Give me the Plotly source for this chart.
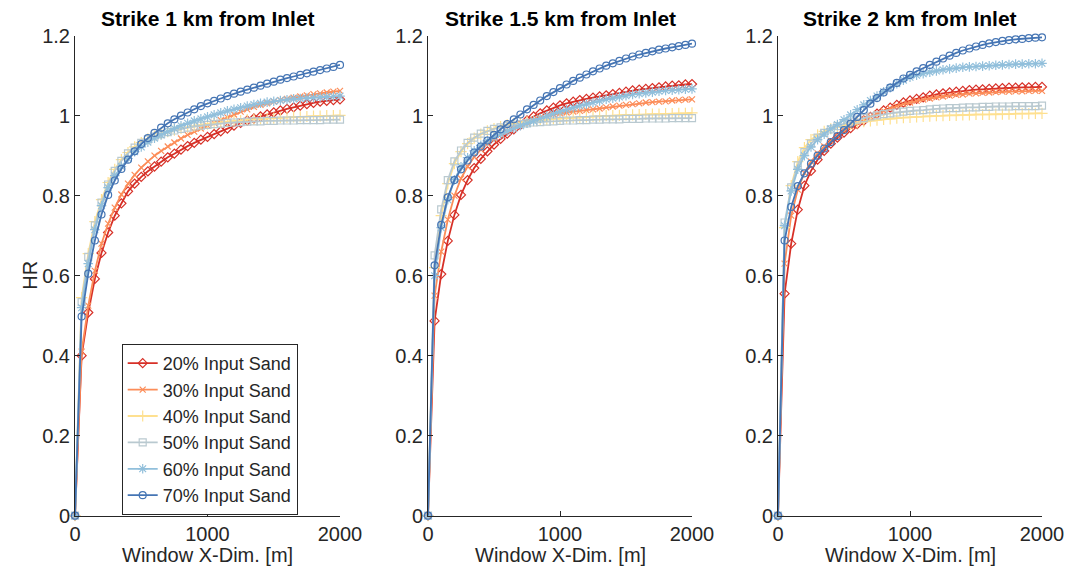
import plotly.graph_objects as go

# Window X-dimension [m]
x_m = [0, 50, 100, 150, 200, 250, 300, 350, 400, 450, 500, 550, 600, 650, 700, 750, 800,
       850, 900, 950, 1000, 1050, 1100, 1150, 1200, 1250, 1300, 1350, 1400, 1450, 1500,
       1550, 1600, 1650, 1700, 1750, 1800, 1850, 1900, 1950, 2000]

series_names = ["20% Input Sand", "30% Input Sand", "40% Input Sand",
                "50% Input Sand", "60% Input Sand", "70% Input Sand"]
panel_titles = ["Strike 1 km from Inlet", "Strike 1.5 km from Inlet", "Strike 2 km from Inlet"]

# ---- Strike 1 km ----
s20_1 = [0, 0.40, 0.508, 0.592, 0.657, 0.708, 0.750, 0.781, 0.811, 0.830, 0.847, 0.861, 0.873, 0.885, 0.896, 0.905, 0.915, 0.924, 0.932, 0.940, 0.947, 0.954, 0.961, 0.968, 0.975, 0.982, 0.988, 0.993, 0.998, 1.003, 1.008, 1.013, 1.017, 1.021, 1.025, 1.029, 1.032, 1.035, 1.037, 1.039, 1.041]
s30_1 = [0, 0.41, 0.525, 0.612, 0.68, 0.73, 0.77, 0.803, 0.83, 0.852, 0.87, 0.886, 0.9, 0.912, 0.923, 0.933, 0.943, 0.952, 0.96, 0.968, 0.975, 0.982, 0.989, 0.996, 1.003, 1.01, 1.016, 1.022, 1.027, 1.031, 1.035, 1.039, 1.042, 1.045, 1.048, 1.051, 1.054, 1.056, 1.058, 1.06, 1.062]
s40_1 = [0, 0.545, 0.655, 0.735, 0.79, 0.833, 0.866, 0.89, 0.908, 0.922, 0.933, 0.942, 0.949, 0.955, 0.96, 0.964, 0.968, 0.971, 0.974, 0.977, 0.979, 0.981, 0.983, 0.985, 0.987, 0.988, 0.99, 0.991, 0.992, 0.993, 0.994, 0.995, 0.996, 0.997, 0.997, 0.998, 0.999, 0.999, 1.0, 1.0, 1.001]
s50_1 = [0, 0.534, 0.647, 0.726, 0.783, 0.828, 0.862, 0.887, 0.906, 0.92, 0.932, 0.941, 0.948, 0.954, 0.959, 0.963, 0.967, 0.97, 0.973, 0.975, 0.977, 0.979, 0.98, 0.982, 0.983, 0.984, 0.985, 0.986, 0.986, 0.987, 0.987, 0.988, 0.988, 0.988, 0.989, 0.989, 0.989, 0.989, 0.99, 0.99, 0.99]
s60_1 = [0, 0.52, 0.63, 0.715, 0.775, 0.82, 0.85, 0.873, 0.893, 0.91, 0.922, 0.934, 0.944, 0.952, 0.96, 0.968, 0.975, 0.981, 0.987, 0.992, 0.997, 1.002, 1.007, 1.012, 1.016, 1.02, 1.024, 1.028, 1.031, 1.034, 1.036, 1.038, 1.04, 1.042, 1.043, 1.044, 1.045, 1.046, 1.047, 1.048, 1.049]
s70_1 = [0, 0.498, 0.605, 0.688, 0.753, 0.802, 0.838, 0.867, 0.89, 0.911, 0.929, 0.944, 0.957, 0.97, 0.981, 0.991, 1.0, 1.008, 1.016, 1.024, 1.031, 1.037, 1.043, 1.049, 1.055, 1.06, 1.065, 1.07, 1.075, 1.08, 1.085, 1.09, 1.094, 1.098, 1.102, 1.106, 1.11, 1.114, 1.118, 1.122, 1.127]

# ---- Strike 1.5 km ----
s20_2 = [0, 0.487, 0.604, 0.687, 0.752, 0.802, 0.839, 0.869, 0.892, 0.911, 0.928, 0.942, 0.955, 0.966, 0.977, 0.988, 0.998, 1.006, 1.013, 1.02, 1.026, 1.031, 1.035, 1.039, 1.042, 1.045, 1.048, 1.051, 1.054, 1.057, 1.06, 1.063, 1.065, 1.067, 1.069, 1.071, 1.073, 1.075, 1.076, 1.078, 1.079]
s30_2 = [0, 0.55, 0.66, 0.74, 0.80, 0.843, 0.873, 0.897, 0.915, 0.93, 0.942, 0.953, 0.962, 0.97, 0.977, 0.984, 0.99, 0.995, 0.999, 1.003, 1.006, 1.008, 1.01, 1.012, 1.014, 1.016, 1.018, 1.021, 1.023, 1.025, 1.027, 1.029, 1.031, 1.033, 1.034, 1.035, 1.036, 1.038, 1.039, 1.04, 1.041]
s40_2 = [0, 0.62, 0.75, 0.83, 0.88, 0.91, 0.93, 0.944, 0.954, 0.962, 0.968, 0.973, 0.977, 0.98, 0.983, 0.985, 0.987, 0.989, 0.99, 0.992, 0.993, 0.994, 0.995, 0.996, 0.997, 0.998, 0.999, 1.0, 1.0, 1.001, 1.002, 1.002, 1.003, 1.003, 1.004, 1.004, 1.005, 1.005, 1.006, 1.006, 1.007]
s50_2 = [0, 0.651, 0.766, 0.839, 0.886, 0.913, 0.932, 0.945, 0.955, 0.962, 0.967, 0.971, 0.974, 0.977, 0.979, 0.981, 0.983, 0.984, 0.985, 0.986, 0.987, 0.988, 0.988, 0.989, 0.989, 0.99, 0.99, 0.991, 0.991, 0.991, 0.992, 0.992, 0.992, 0.993, 0.993, 0.993, 0.993, 0.994, 0.994, 0.994, 0.994]
s60_2 = [0, 0.60, 0.72, 0.79, 0.84, 0.872, 0.895, 0.912, 0.926, 0.937, 0.946, 0.954, 0.961, 0.968, 0.975, 0.981, 0.987, 0.993, 0.999, 1.005, 1.01, 1.015, 1.02, 1.025, 1.029, 1.033, 1.037, 1.041, 1.044, 1.047, 1.05, 1.053, 1.055, 1.057, 1.059, 1.061, 1.063, 1.064, 1.065, 1.066, 1.067]
s70_2 = [0, 0.626, 0.727, 0.796, 0.839, 0.866, 0.888, 0.908, 0.923, 0.938, 0.952, 0.966, 0.979, 0.991, 1.003, 1.016, 1.027, 1.038, 1.049, 1.059, 1.069, 1.078, 1.087, 1.095, 1.103, 1.111, 1.118, 1.125, 1.131, 1.137, 1.143, 1.148, 1.153, 1.157, 1.161, 1.165, 1.168, 1.171, 1.174, 1.177, 1.18]

# ---- Strike 2 km ----
s20_3 = [0, 0.555, 0.68, 0.765, 0.825, 0.862, 0.89, 0.912, 0.93, 0.945, 0.958, 0.969, 0.979, 0.988, 0.997, 1.005, 1.013, 1.02, 1.027, 1.033, 1.038, 1.042, 1.046, 1.05, 1.053, 1.056, 1.058, 1.06, 1.062, 1.064, 1.065, 1.066, 1.067, 1.068, 1.069, 1.07, 1.07, 1.071, 1.071, 1.072, 1.072]
s30_3 = [0, 0.63, 0.75, 0.815, 0.857, 0.885, 0.906, 0.923, 0.937, 0.95, 0.962, 0.972, 0.982, 0.99, 0.998, 1.005, 1.012, 1.018, 1.024, 1.029, 1.033, 1.037, 1.04, 1.043, 1.046, 1.048, 1.05, 1.052, 1.053, 1.055, 1.056, 1.057, 1.058, 1.059, 1.06, 1.06, 1.061, 1.061, 1.062, 1.062, 1.062]
s40_3 = [0, 0.72, 0.825, 0.885, 0.92, 0.94, 0.952, 0.961, 0.967, 0.972, 0.976, 0.979, 0.982, 0.985, 0.987, 0.989, 0.991, 0.992, 0.994, 0.995, 0.996, 0.997, 0.998, 0.999, 1.0, 1.0, 1.001, 1.001, 1.002, 1.002, 1.003, 1.003, 1.003, 1.004, 1.004, 1.004, 1.005, 1.005, 1.005, 1.006, 1.006]
s50_3 = [0, 0.733, 0.821, 0.876, 0.909, 0.93, 0.945, 0.957, 0.966, 0.974, 0.98, 0.985, 0.99, 0.994, 0.998, 1.001, 1.004, 1.006, 1.008, 1.01, 1.012, 1.013, 1.014, 1.016, 1.017, 1.018, 1.019, 1.019, 1.02, 1.021, 1.021, 1.022, 1.022, 1.023, 1.023, 1.023, 1.024, 1.024, 1.024, 1.024, 1.025]
s60_3 = [0, 0.725, 0.812, 0.866, 0.9, 0.922, 0.94, 0.954, 0.967, 0.978, 0.99, 1.002, 1.015, 1.027, 1.038, 1.049, 1.06, 1.07, 1.08, 1.089, 1.096, 1.101, 1.105, 1.109, 1.112, 1.115, 1.117, 1.119, 1.121, 1.122, 1.123, 1.124, 1.125, 1.126, 1.127, 1.128, 1.129, 1.129, 1.13, 1.13, 1.131]
s70_3 = [0, 0.688, 0.772, 0.824, 0.856, 0.88, 0.9, 0.918, 0.934, 0.949, 0.964, 0.98, 0.997, 1.014, 1.03, 1.044, 1.058, 1.07, 1.082, 1.093, 1.102, 1.111, 1.119, 1.127, 1.135, 1.143, 1.15, 1.157, 1.163, 1.168, 1.173, 1.177, 1.181, 1.184, 1.187, 1.189, 1.191, 1.192, 1.194, 1.195, 1.196]

panels = [
    [s20_1, s30_1, s40_1, s50_1, s60_1, s70_1],
    [s20_2, s30_2, s40_2, s50_2, s60_2, s70_2],
    [s20_3, s30_3, s40_3, s50_3, s60_3, s70_3],
]

colors = ["#d73027", "#fc8d59", "#fee090", "#b9c9d0", "#91bfdb", "#4575b4"]
symbols = ["diamond-open", "x-thin-open", "cross-thin-open", "square-open",
           "asterisk-open", "circle-open"]
msizes = [7, 6, 8, 7, 8, 7]

W, H = 1072, 579
TXT = "#262626"
FONT = "Liberation Sans, Arial, sans-serif"

# panel pixel extents
px_x = [(75, 340), (428, 692), (778, 1042)]
py_top, py_bot = 35.7, 515.7

fig = go.Figure()
for p, data in enumerate(panels):
    xa = "x" if p == 0 else f"x{p+1}"
    ya = "y" if p == 0 else f"y{p+1}"
    for i, ys in enumerate(data):
        fig.add_trace(go.Scatter(
            x=x_m, y=ys, mode="lines+markers", name=series_names[i],
            xaxis=xa, yaxis=ya, showlegend=(p == 0), cliponaxis=False,
            line=dict(color=colors[i], width=1.8),
            marker=dict(symbol=symbols[i], size=msizes[i], color=colors[i],
                        line=dict(color=colors[i], width=1.2)),
        ))

layout = dict(
    width=W, height=H, margin=dict(l=0, r=0, t=0, b=0, autoexpand=False),
    paper_bgcolor="white", plot_bgcolor="white",
    font=dict(family=FONT, size=20, color=TXT),
    legend=dict(x=121.7 / W, y=1 - 344 / H, xanchor="left", yanchor="top",
                bgcolor="white", bordercolor=TXT, borderwidth=1,
                font=dict(size=18, color=TXT), tracegroupgap=0),
    annotations=[],
)
for p in range(3):
    sfx = "" if p == 0 else str(p + 1)
    x0, x1 = px_x[p]
    layout["xaxis" + sfx] = dict(
        domain=[x0 / W, x1 / W], range=[0, 2000], tickvals=[0, 1000, 2000],
        anchor="y" + sfx, showline=True, linecolor=TXT, linewidth=1,
        ticks="inside", ticklen=5, tickcolor=TXT, showgrid=False, zeroline=False,
        tickfont=dict(size=20, color=TXT), automargin=False,
    )
    layout["yaxis" + sfx] = dict(
        domain=[1 - py_bot / H, 1 - py_top / H], range=[0, 1.2], dtick=0.2,
        anchor="x" + sfx, showline=True, linecolor=TXT, linewidth=1,
        ticks="inside", ticklen=5, tickcolor=TXT, showgrid=False, zeroline=False,
        tickfont=dict(size=20, color=TXT), automargin=False,
    )
    cx = (x0 + x1) / 2 / W
    layout["annotations"].append(dict(
        text="<b>" + panel_titles[p] + "</b>", x=cx, y=1 - 18 / H,
        xref="paper", yref="paper", xanchor="center", yanchor="middle",
        showarrow=False, font=dict(size=21, color="black")))
    layout["annotations"].append(dict(
        text="Window X-Dim. [m]", x=cx, y=1 - 555 / H,
        xref="paper", yref="paper", xanchor="center", yanchor="middle",
        showarrow=False, font=dict(size=20, color=TXT)))

layout["annotations"].append(dict(
    text="HR", x=30 / W, y=1 - 275.7 / H, xref="paper", yref="paper",
    xanchor="center", yanchor="middle", textangle=-90, showarrow=False,
    font=dict(size=20, color=TXT)))

fig.update_layout(**layout)
fig.write_html("out.html")
